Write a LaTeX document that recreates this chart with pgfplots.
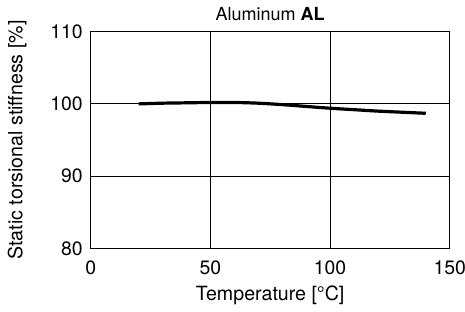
\documentclass[border=0pt]{standalone}
\usepackage{fontspec}
\setmainfont{TeX Gyre Heros}
\usepackage{pgfplots}
\pgfplotsset{compat=1.18}
\begin{document}
\fontsize{9}{11}\selectfont
\begin{tikzpicture}
\useasboundingbox (-45.35pt,-31.35pt) rectangle (187.15pt,124.15pt);
\begin{axis}[
  at={(0,0)}, anchor=south west,
  scale only axis, width=179.5pt, height=108.3pt,
  xmin=0, xmax=150, ymin=80, ymax=110,
  xtick={0,50,100,150}, ytick={80,90,100,110},
  major tick length=0pt,
  grid=major,
  major grid style={black, line width=0.5pt},
  axis line style={black, line width=0.7pt},
  /pgf/number format/assume math mode=true,
  tick label style={font=\fontsize{9.7}{11}\selectfont},
  xticklabel style={yshift=-3.2pt},
  yticklabel style={xshift=-0.8pt},
  xlabel={Temperature [°C]},
  ylabel={Static torsional stiffness [\%]},
  every axis x label/.style={at={(axis description cs:0.5,0)}, anchor=center, yshift=-23.4pt, font=\fontsize{9.8}{11}\selectfont},
  every axis y label/.style={at={(axis description cs:0,0.5)}, xshift=-36.8pt, rotate=90, anchor=center, font=\fontsize{9.8}{11}\selectfont},
  title={Aluminum \textbf{AL}},
  every axis title/.style={at={(axis description cs:0.5,1)}, anchor=base, yshift=5.7pt, font=\fontsize{9}{11}\selectfont},
]
\addplot[black, line width=1.6pt, smooth] coordinates {
(20,100.0) (30,100.1) (40,100.15) (50,100.2) (60,100.2) (70,100.1) (80,99.9) (90,99.65) (100,99.4) (110,99.2) (120,99.0) (130,98.85) (140,98.7)
};
\end{axis}
\end{tikzpicture}
\end{document}
